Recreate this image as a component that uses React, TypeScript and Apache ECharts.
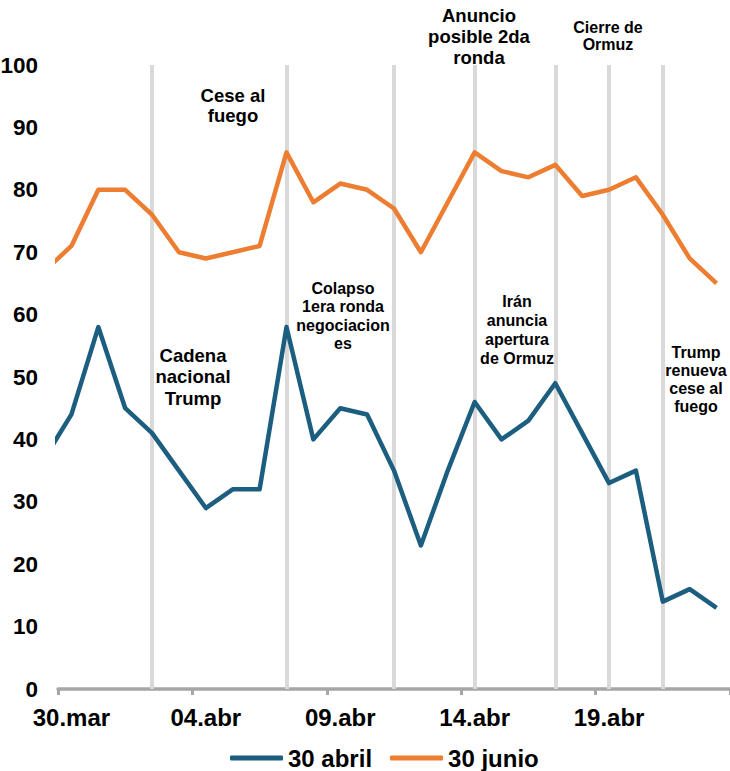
import React, { useEffect, useRef } from "react";
import * as echarts from "echarts";

// Dates of the data (29.mar lies just outside the visible axis and is clipped)
const dates = [
  "29.mar", "30.mar", "31.mar", "01.abr", "02.abr", "03.abr", "04.abr", "05.abr",
  "06.abr", "07.abr", "08.abr", "09.abr", "10.abr", "11.abr", "12.abr", "13.abr",
  "14.abr", "15.abr", "16.abr", "17.abr", "18.abr", "19.abr", "20.abr", "21.abr",
  "22.abr", "23.abr",
];
const axisDates = dates.slice(1);

const abril = [37, 44, 58, 45, 41, 35, 29, 32, 32, 58, 40, 45, 44, 35, 23, 35, 46, 40, 43, 49, 41, 33, 35, 14, 16, 13];
const junio = [67, 71, 80, 80, 76, 70, 69, 70, 71, 86, 78, 81, 80, 77, 70, 78, 86, 83, 82, 84, 79, 80, 82, 76, 69, 65];

const seriesNames = ["30 abril", "30 junio"];

const eventDates = ["02.abr", "07.abr", "11.abr", "14.abr", "17.abr", "19.abr", "21.abr"];

const annotationTexts = [
  "Cese al\nfuego",
  "Anuncio\nposible 2da\nronda",
  "Cierre de\nOrmuz",
  "Colapso\n1era ronda\nnegociacion\nes",
  "Cadena\nnacional\nTrump",
  "Irán\nanuncia\napertura\nde Ormuz",
  "Trump\nrenueva\ncese al\nfuego",
];

const FONT = 'Arial, "Liberation Sans", sans-serif';
const BLUE = "#1B5E7F";
const ORANGE = "#ED7D31";

export default function App() {
  const ref = useRef<HTMLDivElement>(null);

  useEffect(() => {
    if (!ref.current) return;
    const chart = echarts.init(ref.current, undefined, { renderer: "svg" });

    const toXY = (vals: number[]) => vals.map((v, i) => [i - 0.5, v]);

    // layout of annotations (pixel centre, font size, line height)
    const annLayout = [
      { x: 233, y: 105, size: 18.5, lh: 20 },
      { x: 479, y: 36, size: 18.5, lh: 21 },
      { x: 608, y: 35.5, size: 16, lh: 17 },
      { x: 343, y: 316, size: 16, lh: 18.5 },
      { x: 193, y: 376.5, size: 18.5, lh: 21.5 },
      { x: 517, y: 330, size: 16, lh: 18.7 },
      { x: 696, y: 379.5, size: 16, lh: 18.3 },
    ];

    const option: any = {
      animation: false,
      backgroundColor: "#ffffff",
      grid: {
        left: 58,
        right: 0,
        top: 65,
        bottom: 82,
        containLabel: false,
        outerBoundsMode: "none",
      },
      legend: {
        data: seriesNames,
        left: 230,
        top: 746,
        padding: 0,
        icon: "roundRect",
        itemWidth: 53,
        itemHeight: 5,
        itemGap: 18,
        textStyle: { fontFamily: FONT, fontWeight: "bold", fontSize: 24, color: "#000" },
      },
      xAxis: [
        {
          type: "category",
          data: axisDates,
          boundaryGap: true,
          axisLine: { show: true, lineStyle: { color: "#A6A6A6", width: 3.5 } },
          axisTick: { show: true, interval: 4, length: 6, lineStyle: { color: "#A6A6A6", width: 3 } },
          axisLabel: {
            interval: 4,
            margin: 16,
            fontFamily: FONT,
            fontWeight: "bold",
            fontSize: 24,
            color: "#000",
          },
          splitLine: { show: false },
        },
        {
          type: "value",
          min: 0,
          max: axisDates.length,
          show: false,
          splitLine: { show: false },
        },
      ],
      yAxis: {
        type: "value",
        min: 0,
        max: 100,
        interval: 10,
        axisLine: { show: false },
        axisTick: { show: false },
        splitLine: { show: false },
        axisLabel: {
          margin: 20,
          fontFamily: FONT,
          fontWeight: "bold",
          fontSize: 22.5,
          color: "#000",
        },
      },
      series: [
        {
          name: seriesNames[0],
          type: "line",
          xAxisIndex: 1,
          data: toXY(abril),
          symbol: "none",
          clip: true,
          z: 3,
          lineStyle: { color: BLUE, width: 4.5, join: "round" },
          itemStyle: { color: BLUE },
          markLine: {
            silent: true,
            symbol: ["none", "none"],
            z: 1,
            label: { show: false },
            lineStyle: { color: "#D9D9D9", width: 4, type: "solid" },
            emphasis: { disabled: true },
            data: eventDates.map((d) => ({ xAxis: axisDates.indexOf(d) + 0.5 })),
          },
        },
        {
          name: seriesNames[1],
          type: "line",
          xAxisIndex: 1,
          data: toXY(junio),
          symbol: "none",
          clip: true,
          z: 3,
          lineStyle: { color: ORANGE, width: 4.5, join: "round" },
          itemStyle: { color: ORANGE },
        },
      ],
      graphic: annotationTexts.map((t, i) => ({
        type: "text",
        x: annLayout[i].x,
        y: annLayout[i].y,
        z: 10,
        style: {
          text: t,
          align: "center",
          verticalAlign: "middle",
          fontFamily: FONT,
          fontWeight: "bold",
          fontSize: annLayout[i].size,
          lineHeight: annLayout[i].lh,
          fill: "#000",
        },
      })),
    };

    chart.setOption(option);
    return () => chart.dispose();
  }, []);

  return (
    <div
      ref={ref}
      style={{ position: "fixed", left: 0, top: 0, width: 730, height: 771, background: "#fff" }}
    />
  );
}
